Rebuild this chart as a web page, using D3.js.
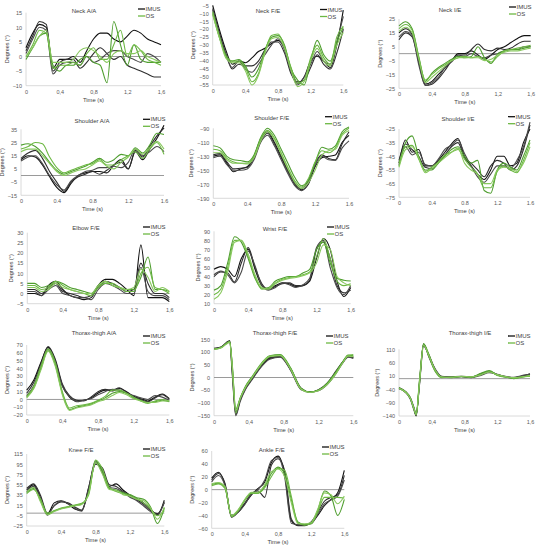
<!DOCTYPE html>
<html>
<head>
<meta charset="utf-8">
<script src="https://cdn.jsdelivr.net/npm/d3@7"></script>
<style>
  body { margin: 0; background: #fff; }
  text { font-family: "Liberation Sans", Arial, sans-serif; }
</style>
</head>
<body>
<svg id="fig" width="539" height="550"></svg>
<script>
// time grids (s)
var time = [0,0.08,0.16,0.24,0.32,0.4,0.48,0.56,0.64,0.72,0.8,0.88,0.96,1.04,1.12,1.2,1.28,1.36,1.44,1.52,1.6];
var timeSharp = [0,0.08,0.14,0.18,0.21,0.25,0.3,0.36,0.44,0.52,0.64,0.76,0.88,1.0,1.1,1.2,1.3,1.4,1.48,1.54,1.6];
var xTicks = [0,0.4,0.8,1.2,1.6];
var seriesNames = ["IMUS","OS"];

// Neck A/A
var neckAA_imus = [
  [3,8,11,10,-4,-1,-1,0,-2,2,6,8,8,6,5,7,9,8,6,5,4],
  [2,7,12,11,-5,-2,-1,-1,-4,-2,1,3,1,-1,0,-3,-4,-5,-6,-7,-7],
  [1,6,10,9,-6,-3,-2,-2,-3,0,-2,-1,1,2,2,0,-1,-2,1,0,-2]];
var neckAA_os = [
  [-1,3,7,8,-3,-5,-3,-3,-1,0,-2,-3,-9,12,4,-3,4,-1,-2,-2,-2],
  [0,4,9,8,-4,-3,-3,-2,-3,1,3,-1,-1,4,9,0,4,2,-1,-2,-3],
  [0,3,7,9,-2,-2,-2,-1,2,3,2,0,-2,1,2,1,1,2,0,-1,-2]];
var neckAA_ticks = [-10,-5,0,5,10,15];

// Neck F/E
var neckFE_imus = [
  [-5,-20,-33,-42,-40,-41,-38,-34,-32,-29,-27,-32,-45,-54,-50,-40,-37,-40,-44,-30,-8],
  [-7,-22,-35,-45,-42,-43,-43,-40,-33,-28,-28,-35,-48,-53,-52,-44,-36,-42,-45,-35,-20],
  [-8,-23,-36,-44,-40,-45,-47,-42,-36,-30,-26,-33,-47,-55,-50,-42,-34,-40,-42,-28,-12]];
var neckFE_os = [
  [-10,-25,-36,-40,-39,-43,-50,-45,-33,-25,-24,-30,-45,-52,-55,-40,-27,-36,-40,-28,-19],
  [-9,-24,-37,-40,-40,-44,-53,-48,-34,-24,-23,-31,-44,-54,-52,-38,-30,-38,-42,-25,-18],
  [-11,-25,-38,-41,-41,-46,-55,-49,-35,-26,-25,-32,-46,-56,-53,-40,-32,-40,-43,-30,-22]];
var neckFE_ticks = [-55,-50,-45,-40,-35,-30,-25,-20,-15,-10,-5];

// Neck I/E
var neckIE_imus = [
  [15,18,14,-5,-22,-20,-15,-10,-5,0,0,2,-1,-4,-1,3,5,8,11,13,13],
  [10,15,12,-6,-23,-22,-18,-12,-5,-1,-1,3,7,3,2,4,3,4,7,9,9],
  [12,16,13,-8,-23,-21,-17,-10,-6,-1,-2,0,-2,-3,-1,0,2,3,3,5,5]];
var neckIE_os = [
  [20,23,18,-2,-20,-14,-10,-7,-4,-2,-3,-2,5,-3,-7,0,2,3,3,4,5],
  [18,21,17,-3,-19,-15,-11,-8,-5,-3,-2,-3,-2,-4,-6,-2,2,3,4,5,6],
  [16,19,15,-4,-21,-17,-13,-9,-5,-3,-3,-3,-3,-5,-4,-1,1,2,2,3,4]];
var neckIE_ticks = [-25,-15,-5,5,15,25];

// Shoulder A/A
var shoulderAA_imus = [
  [12,15,14,8,-1,-9,-13,-6,0,2,3,3,2,8,12,5,18,12,20,28,38],
  [13,17,19,13,3,-5,-12,-5,-1,1,3,1,4,8,10,5,19,14,22,30,36],
  [11,14,15,9,0,-7,-11,-4,0,3,4,6,6,7,6,10,20,15,18,22,18]];
var shoulderAA_os = [
  [23,24,22,17,10,4,1,3,5,7,10,13,10,12,16,15,21,17,23,32,31],
  [20,22,25,24,14,6,2,4,6,8,9,12,8,8,12,15,18,13,20,25,16],
  [18,20,20,15,9,3,0,2,4,5,8,11,7,5,10,14,20,16,21,26,20]];
var shoulderAA_ticks = [-15,-5,5,15,25,35];

// Shoulder F/E
var shoulderFE_imus = [
  [-130,-128,-140,-152,-148,-145,-130,-105,-95,-110,-130,-150,-168,-178,-170,-145,-132,-130,-128,-110,-100],
  [-128,-126,-138,-148,-147,-146,-132,-108,-97,-112,-132,-152,-170,-176,-165,-140,-128,-133,-135,-112,-95],
  [-132,-130,-142,-150,-150,-148,-135,-110,-100,-115,-135,-155,-172,-179,-168,-142,-130,-135,-136,-118,-108]];
var shoulderFE_os = [
  [-115,-118,-130,-135,-136,-138,-128,-103,-90,-100,-120,-140,-160,-172,-165,-140,-117,-120,-115,-95,-88],
  [-120,-122,-133,-138,-140,-140,-130,-105,-93,-104,-125,-146,-165,-174,-162,-138,-122,-125,-118,-98,-90],
  [-125,-125,-135,-140,-140,-141,-132,-108,-95,-106,-127,-148,-167,-176,-168,-150,-128,-122,-120,-100,-93]];
var shoulderFE_ticks = [-190,-170,-150,-130,-110,-90];

// Shoulder I/E
var shoulderIE_imus = [
  [-50,-33,-42,-40,-52,-52,-48,-42,-36,-32,-45,-52,-58,-62,-55,-45,-45,-52,-50,-35,-25],
  [-48,-36,-40,-45,-53,-54,-50,-44,-38,-35,-46,-50,-55,-60,-52,-48,-50,-55,-52,-40,-22],
  [-51,-38,-44,-42,-51,-52,-47,-40,-37,-33,-43,-52,-60,-64,-58,-52,-52,-54,-48,-38,-20]];
var shoulderIE_os = [
  [-52,-35,-30,-45,-55,-55,-50,-45,-40,-38,-45,-50,-48,-70,-72,-55,-50,-53,-55,-45,-33],
  [-50,-38,-37,-47,-56,-53,-49,-44,-42,-40,-47,-53,-58,-68,-68,-56,-52,-55,-57,-48,-35],
  [-53,-40,-38,-46,-57,-54,-50,-46,-42,-39,-50,-55,-58,-65,-65,-55,-53,-54,-56,-50,-38]];
var shoulderIE_ticks = [-75,-65,-55,-45,-35,-25];

// Elbow F/E
var elbowFE_imus = [
  [0,0,-1,4,6,2,-1,-2,-3,-2,4,7,7,5,2,-1,24,-2,-2,-2,-4],
  [2,2,0,3,5,1,0,-1,-2,-1,3,6,5,3,1,2,15,5,0,0,-2],
  [1,1,-1,2,4,0,-1,-2,-2,-3,2,5,4,2,0,0,13,1,-1,-1,-3]];
var elbowFE_os = [
  [5,5,3,4,6,5,3,2,1,0,4,6,4,3,2,2,8,18,2,2,1],
  [4,4,2,3,6,4,2,1,0,-1,3,5,5,3,1,1,10,13,3,2,0],
  [3,3,1,2,5,3,2,1,0,0,4,6,4,3,2,3,12,8,1,3,1]];
var elbowFE_ticks = [-5,0,5,10,15,20,25,30];

// Wrist F/E
var wristFE_imus = [
  [48,51,48,40,60,70,48,30,26,30,33,32,29,30,35,60,82,70,35,18,28],
  [40,45,44,34,55,72,50,32,26,29,32,33,30,30,36,70,78,60,30,22,25],
  [42,46,42,33,45,68,52,30,25,28,33,31,28,31,38,72,80,50,28,20,30]];
var wristFE_os = [
  [25,30,55,84,78,60,38,27,28,35,38,40,40,44,48,70,78,55,38,36,35],
  [20,26,50,80,80,62,40,26,27,33,37,39,40,42,45,62,82,60,35,30,32],
  [15,22,45,78,80,65,42,28,26,32,36,38,39,41,44,55,75,70,40,33,30]];
var wristFE_ticks = [10,20,30,40,50,60,70,80,90];

// Thorax-thigh A/A
var thoraxAA_imus = [
  [12,25,48,67,50,18,3,-2,-1,2,8,12,11,14,10,4,1,-2,3,7,1],
  [8,22,46,68,52,20,5,-1,-2,3,10,13,12,15,9,3,0,-3,2,6,0],
  [5,18,43,65,48,17,4,-3,-1,1,6,10,13,12,8,5,2,0,5,3,-1]];
var thoraxAA_os = [
  [3,15,40,63,45,8,-13,-10,-8,-6,-2,2,8,10,8,2,-1,-4,-3,-1,-3],
  [4,17,43,65,48,10,-11,-8,-7,-5,-1,4,12,12,8,3,-2,-5,-2,0,-2],
  [2,14,38,62,43,6,-14,-11,-9,-7,-3,0,5,9,6,1,-2,-4,-4,-2,-2]];
var thoraxAA_ticks = [-20,-10,0,10,20,30,40,50,60,70];

// Thorax-thigh F/E (sharp grid)
var thoraxFE_imus = [
  [115,120,135,142,20,-145,-90,-45,-5,35,75,82,30,-45,-58,-50,-25,20,60,82,78],
  [113,118,137,145,40,-135,-85,-40,-2,38,78,84,35,-42,-57,-48,-22,25,62,84,80],
  [112,119,133,140,10,-150,-95,-48,-8,32,72,80,28,-48,-56,-52,-28,15,57,80,75]];
var thoraxFE_os = [
  [110,118,132,142,50,-125,-80,-35,5,45,85,90,38,-42,-57,-49,-22,22,63,88,85],
  [112,117,134,140,35,-140,-82,-38,2,40,82,88,34,-45,-58,-50,-26,18,60,86,90],
  [111,116,130,138,45,-130,-84,-40,0,42,84,86,32,-46,-59,-52,-28,14,58,84,82]];
var thoraxFE_ticks = [-150,-100,-50,0,50,100,150];

// Thorax-thigh I/E (sharp grid)
var thoraxIE_imus = [
  [-35,-50,-75,-110,-138,-20,128,90,35,8,5,8,5,15,28,15,8,3,8,12,18],
  [-38,-52,-78,-115,-140,-10,130,85,30,6,7,9,6,18,26,14,6,2,7,10,15],
  [-33,-48,-72,-105,-132,-25,122,92,38,9,6,7,4,12,22,16,9,5,10,14,16]];
var thoraxIE_os = [
  [-36,-50,-74,-108,-135,-15,132,95,32,5,4,8,6,20,30,14,7,0,5,8,10],
  [-34,-49,-73,-112,-130,-5,128,88,28,4,6,7,5,16,27,12,5,2,4,7,9],
  [-37,-51,-76,-110,-136,-18,125,90,34,7,5,9,7,14,25,15,8,4,6,9,12]];
var thoraxIE_ticks = [-140,-90,-40,10,60,110];

// Knee F/E
var kneeFE_imus = [
  [45,55,30,-2,20,24,18,8,5,50,98,82,52,57,45,35,28,20,8,-3,25],
  [48,57,35,0,14,22,20,12,6,45,95,88,55,52,42,33,26,17,5,-1,20],
  [42,52,28,-4,15,23,19,10,4,48,102,78,50,48,40,31,24,14,3,-4,22]];
var kneeFE_os = [
  [40,48,25,-2,4,9,12,15,18,40,100,82,48,45,40,36,30,27,12,-20,10],
  [38,46,28,0,5,10,13,16,19,35,103,86,50,42,38,34,28,20,8,-5,5],
  [42,50,22,-3,3,8,11,14,17,38,98,76,46,44,36,33,27,24,10,-12,12]];
var kneeFE_ticks = [-25,-5,15,35,55,75,95,115];

// Ankle F/E
var ankleFE_imus = [
  [18,27,8,-40,-35,-22,-8,2,12,42,52,25,-48,-55,-55,-52,-40,-25,-15,-5,30],
  [15,25,10,-42,-34,-21,-6,-2,-12,38,48,30,-45,-56,-56,-50,-35,-18,-12,-8,22],
  [12,22,6,-43,-35,-23,-7,0,15,45,50,20,-52,-54,-54,-53,-38,-22,-16,-10,15]];
var ankleFE_os = [
  [8,10,4,-41,-32,-16,-5,-5,5,25,35,25,-15,-50,-54,-52,-32,-2,-10,-40,-15],
  [6,9,2,-42,-33,-17,-6,-6,3,20,33,30,-10,-52,-55,-53,-35,-12,-12,-12,-13],
  [9,11,5,-40,-31,-15,-4,-4,8,28,32,20,-20,-53,-53,-51,-30,-5,-8,-22,-10]];
var ankleFE_ticks = [-60,-40,-20,0,20,40,60];

var imusColors = ["#111111","#2e2e2e","#4a4a4a"];
var osColors = ["#4f9e2f","#6cb843","#88c85e"];

// layout: box = [left, right, top, bottom], title = [cx, cy], legend = [x, y]
var panels = [
  {name:"Neck A/A", imus:neckAA_imus, os:neckAA_os, yt:neckAA_ticks, t:time, dec:",", box:[26,161,12.7,85.7], title:[84,11], legend:[138,9]},
  {name:"Neck F/E", imus:neckFE_imus, os:neckFE_os, yt:neckFE_ticks, t:time, dec:",", box:[212.7,343.3,5.3,85], title:[268,11], legend:[320,9.5]},
  {name:"Neck I/E", imus:neckIE_imus, os:neckIE_os, yt:neckIE_ticks, t:time, dec:",", box:[399,530.7,19,88.3], title:[450,10], legend:[509,7]},
  {name:"Shoulder A/A", imus:shoulderAA_imus, os:shoulderAA_os, yt:shoulderAA_ticks, t:time, dec:".", box:[21,164,129.3,195.3], title:[92,120.7], legend:[143,119.3]},
  {name:"Shoulder F/E", imus:shoulderFE_imus, os:shoulderFE_os, yt:shoulderFE_ticks, t:time, dec:".", box:[213.3,349,128.3,198.3], title:[271.7,117.5], legend:[325,116.7]},
  {name:"Shoulder I/E", imus:shoulderIE_imus, os:shoulderIE_os, yt:shoulderIE_ticks, t:time, dec:".", box:[399,530,129,197.3], title:[458,119], legend:[508,116.7]},
  {name:"Elbow F/E", imus:elbowFE_imus, os:elbowFE_os, yt:elbowFE_ticks, t:time, dec:",", box:[27.3,169.3,232.7,303.7], title:[86,228], legend:[143,227]},
  {name:"Wrist F/E", imus:wristFE_imus, os:wristFE_os, yt:wristFE_ticks, t:time, dec:",", box:[214,350.7,231.3,303.7], title:[275,228.7], legend:[327,227]},
  {name:"Thorax-thigh A/A", imus:thoraxAA_imus, os:thoraxAA_os, yt:thoraxAA_ticks, t:time, dec:",", box:[26.7,169.3,345,415], title:[94,333], legend:[143,336]},
  {name:"Thorax-thigh F/E", imus:thoraxFE_imus, os:thoraxFE_os, yt:thoraxFE_ticks, t:timeSharp, dec:",", box:[214,353.3,339.3,415.7], title:[275,333], legend:[326,336]},
  {name:"Thorax-thigh I/E", imus:thoraxIE_imus, os:thoraxIE_os, yt:thoraxIE_ticks, t:timeSharp, dec:",", box:[399,530,349.3,416], title:[470,333], legend:[508,336]},
  {name:"Knee F/E", imus:kneeFE_imus, os:kneeFE_os, yt:kneeFE_ticks, t:time, dec:",", box:[26.7,164.3,454,526], title:[81,450], legend:[143,449]},
  {name:"Ankle F/E", imus:ankleFE_imus, os:ankleFE_os, yt:ankleFE_ticks, t:time, dec:",", box:[211.7,344.3,451,528.3], title:[271.7,450], legend:[322,447]}
];

var svg = d3.select("#fig");

panels.forEach(function(p) {
  var L = p.box[0], R = p.box[1], T = p.box[2], B = p.box[3];
  var x = d3.scaleLinear().domain([0, 1.6]).range([L, R]);
  var y = d3.scaleLinear().domain(d3.extent(p.yt)).range([B, T]);
  var g = svg.append("g");

  // axis lines
  g.append("line").attr("x1", L).attr("x2", L).attr("y1", T).attr("y2", B)
    .attr("stroke", "#d0d0d0").attr("stroke-width", 0.8);
  g.append("line").attr("x1", L).attr("x2", R).attr("y1", B).attr("y2", B)
    .attr("stroke", "#d0d0d0").attr("stroke-width", 0.8);
  if (y.domain()[0] < 0 && y.domain()[1] > 0) {
    g.append("line").attr("x1", L).attr("x2", R).attr("y1", y(0)).attr("y2", y(0))
      .attr("stroke", "#9a9a9a").attr("stroke-width", 1);
  }

  var yAxis = g.append("g").attr("transform", "translate(" + L + ",0)")
    .call(d3.axisLeft(y).tickValues(p.yt).tickSize(0).tickPadding(4));
  yAxis.select(".domain").remove();
  yAxis.selectAll("text").attr("font-size", 5.5).attr("fill", "#595959")
    .attr("font-family", "Liberation Sans, Arial, sans-serif");

  var xAxis = g.append("g").attr("transform", "translate(0," + B + ")")
    .call(d3.axisBottom(x).tickValues(xTicks).tickSize(0).tickPadding(4)
      .tickFormat(function(d) { return d === 0 ? "0" : d3.format(".1f")(d).replace(".", p.dec); }));
  xAxis.select(".domain").remove();
  xAxis.selectAll("text").attr("font-size", 5.5).attr("fill", "#595959")
    .attr("font-family", "Liberation Sans, Arial, sans-serif");

  // bbox is local to the translated axis group
  var yb = yAxis.node().getBBox();
  g.append("text")
    .attr("transform", "translate(" + (L + yb.x - 4) + "," + ((T + B) / 2) + ") rotate(-90)")
    .attr("text-anchor", "middle").attr("font-size", 5.5).attr("fill", "#404040")
    .text("Degrees (°)");
  g.append("text").attr("x", (L + R) / 2).attr("y", B + 16)
    .attr("text-anchor", "middle").attr("font-size", 5.8).attr("fill", "#404040")
    .text("Time (s)");
  g.append("text").attr("x", p.title[0]).attr("y", p.title[1]).attr("dy", "0.35em")
    .attr("text-anchor", "middle").attr("font-size", 6).attr("fill", "#404040")
    .text(p.name);

  var line = d3.line()
    .x(function(d, i) { return x(p.t[i]); })
    .y(function(d) { return y(d); })
    .curve(d3.curveMonotoneX);

  p.imus.forEach(function(s, k) {
    g.append("path").attr("d", line(s)).attr("fill", "none")
      .attr("stroke", imusColors[k]).attr("stroke-width", 1.1);
  });
  p.os.forEach(function(s, k) {
    g.append("path").attr("d", line(s)).attr("fill", "none")
      .attr("stroke", osColors[k]).attr("stroke-width", 1.1);
  });

  // legend
  var lg = g.append("g").attr("transform", "translate(" + p.legend[0] + "," + p.legend[1] + ")");
  seriesNames.forEach(function(n, i) {
    lg.append("line").attr("x1", 0).attr("x2", 7).attr("y1", i * 7).attr("y2", i * 7)
      .attr("stroke", i === 0 ? "#111" : "#6cb843").attr("stroke-width", 1.3);
    lg.append("text").attr("x", 7.5).attr("y", i * 7).attr("dy", "0.35em")
      .attr("font-size", 6).attr("fill", "#404040").text(n);
  });
});
</script>
</body>
</html>
